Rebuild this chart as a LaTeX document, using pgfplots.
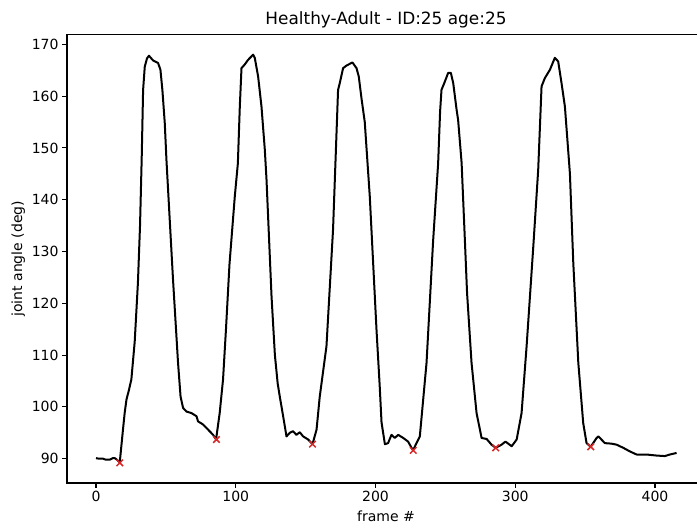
\documentclass[border=0pt]{standalone}
\usepackage{fontspec}
\setmainfont{DejaVu Sans}
\usepackage{pgfplots}
\pgfplotsset{compat=1.18}
\definecolor{mred}{RGB}{214,39,40}

\begin{document}
\begin{tikzpicture}
\begin{axis}[
  name=ax,
  scale only axis,
  width=638pt, height=448.5pt,
  xmin=-20.75, xmax=435.75,
  ymin=85.3, ymax=171.9,
  xtick={0,100,200,300,400},
  ytick={90,100,110,120,130,140,150,160,170},
  tick align=outside,
  xtick pos=bottom, ytick pos=left,
  major tick length=4.9pt,
  every tick/.style={black, line width=1.1pt},
  axis line style={line width=1.1pt},
  /pgf/number format/assume math mode=true,
  tick label style={font=\fontsize{14}{16}\selectfont},
  label style={font=\fontsize{14}{16}\selectfont},
  title={Healthy-Adult - ID:25 age:25},
  title style={font=\fontsize{16.9}{19}\selectfont, yshift=-3pt},
  xlabel={frame \#},
  xlabel style={yshift=-2pt},
  ylabel={joint angle (deg)},
]
\addplot[black, line width=2pt, line join=round] coordinates {
  (0,90.1)(2,90.0)(5,90.0)(7,89.8)(9.8,89.8)(12,90.1)(13.4,90.1)(15,89.8)
  (17,89.3)(19.3,95.6)(20.5,98.8)(21.8,101.4)(23.6,103.3)(25.3,105.3)
  (27.7,112.6)(30,124)(31.5,135)(32.7,148)(33.7,161.2)(34.9,165.7)
  (36.5,167.3)(37.9,167.8)(40.8,166.9)(44.4,166.4)(46.1,165.1)(47.5,161.2)
  (49.2,154.8)(50.4,147.7)(55.1,124.6)(58.7,108.5)(60.5,102)(62.3,99.8)
  (64.7,99.1)(68.3,98.8)(71.9,98.2)(73,97.2)(76.6,96.6)(80.2,95.6)
  (83.8,94.6)(85.9,93.7)
  (88.5,98.8)(90.9,105.3)(93,115)(95.5,127.5)(99.3,140.6)(101.5,147)
  (102.9,158)(104.1,165.4)(106.4,166.1)(108.8,167)(112.4,168)(113.6,167.4)
  (116,163.8)(118.4,158)(120.8,149.6)(122,143.9)(125.6,121.3)(128,110)
  (130,104.5)(131.5,102)(133.9,98.2)(136.3,94.3)(138.7,95)(141,95.3)
  (143.4,94.6)(145.8,95.1)(148.2,94.3)(151.8,93.7)(154.9,92.8)
  (157.8,95.6)(160.1,102)(164.9,111.7)(169.6,134.2)(173.2,161.2)
  (174.4,162.5)(176.8,165.4)(179.2,165.9)(183.5,166.5)(186.4,165.4)
  (188,163.8)(190,159.5)(192.3,155)(195.9,140.6)(200.7,114.9)
  (203,104)(204.3,97)(206.7,92.8)(209,93)(211.4,94.6)(213.8,94)(216.2,94.6)
  (219.8,94)(223.3,93.3)(226.8,91.6)
  (231.7,94.3)(236.5,108.5)(241.2,132)(244.8,147)(246.2,157)(247.2,161.2)
  (249.6,162.8)(252,164.5)(253.9,164.5)(255.6,162.5)(258,157.4)(259.1,155.4)
  (261.6,147.1)(263.5,135)(265.5,122)(268.7,108.5)(272.3,98.8)(275.9,94)
  (279.5,93.8)(283,92.7)(286,92.1)(290.2,92.7)(293,93.3)(297.4,92.4)
  (301,93.7)(304.5,98.8)(308.1,111.7)(312.9,131)(316.4,145.8)(318.8,161.9)
  (321.2,163.5)(324.8,165.1)(328.3,167.4)(330.7,166.7)(333.1,162.5)
  (335.5,158)(339.1,145)(341.5,127.8)(345.1,108.5)(348.6,96.9)(351,93)
  (354,92.3)(358.2,94)(359.5,94.3)(364.1,93)(368.9,92.9)(372.5,92.7)
  (377.2,92.1)(382,91.4)(386.8,90.8)(393.9,90.8)(401.1,90.6)(407,90.5)
  (410.6,90.8)(415.4,91.1)
};
\addplot[only marks, mark=x, mark size=4.6pt, mred,
  mark options={line width=1.5pt}] coordinates {
  (17,89.2)(86.2,93.7)(154.9,92.8)(227,91.6)(286,92.1)(354,92.3)
};
\end{axis}
\pgfresetboundingbox
\path[use as bounding box] ([xshift=-67pt,yshift=-42pt]ax.south west)
  rectangle ([xshift=-8pt,yshift=34.5pt]ax.north east);
\end{tikzpicture}
\end{document}
